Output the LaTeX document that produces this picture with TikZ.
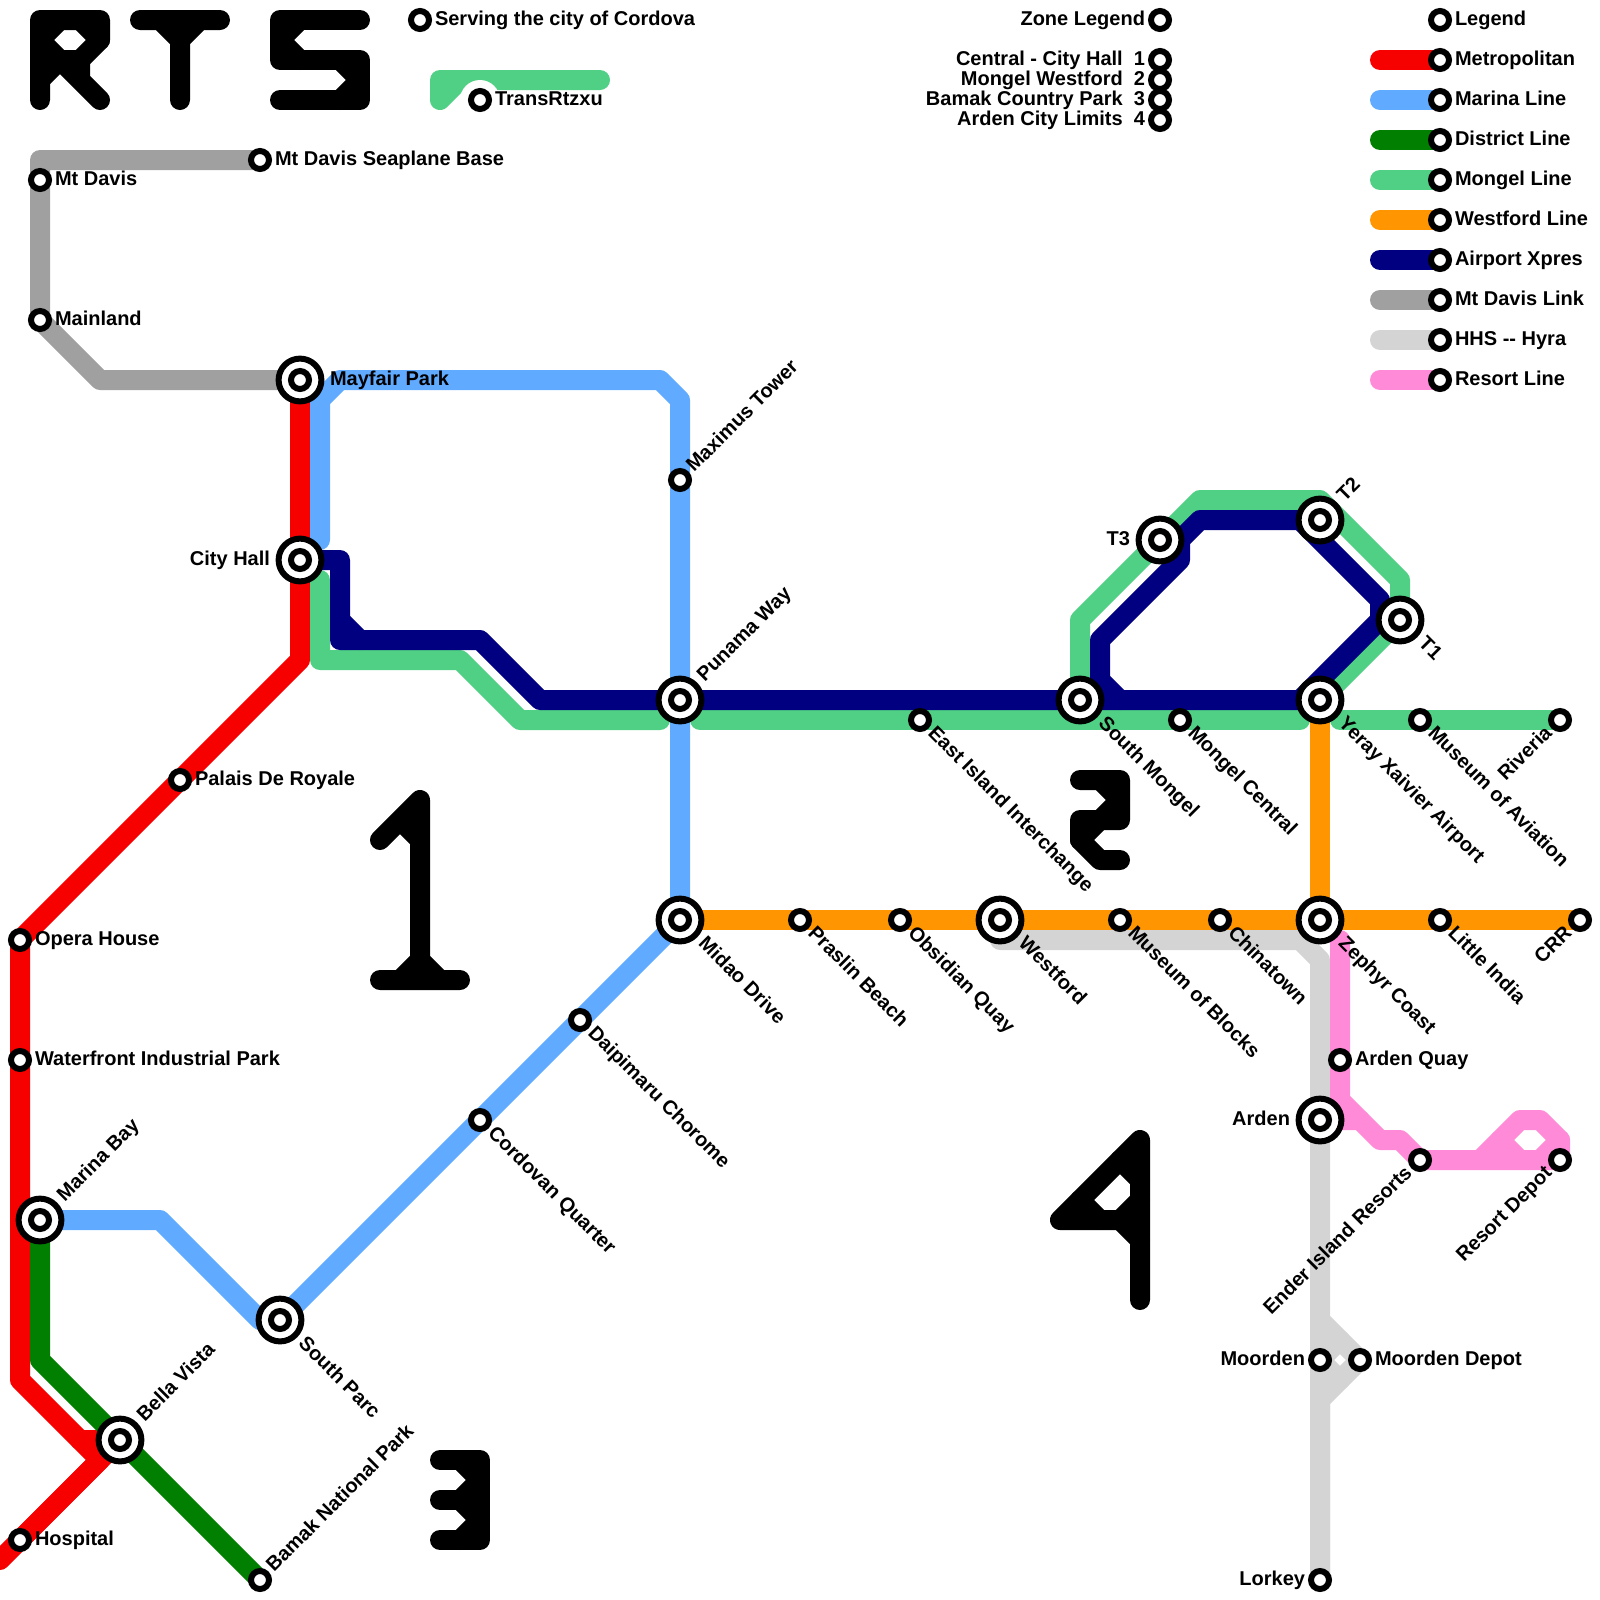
\documentclass[tikz,border=0pt]{standalone}
\usepackage{fontspec}
\setmainfont{Liberation Sans}
\usetikzlibrary{positioning}

\tikzset{
	route/.style={line width=0.5cm, line cap=round, line join=round},
	glyph/.style={route, black},
	stop/.style={circle, draw=black, fill=white, line width=0.15cm, minimum size=0.45cm, inner sep=0pt},
	bigstop/.style={circle, draw=black, fill=white, line width=0.15cm, minimum size=1.07cm, inner sep=0pt},
	lab/.style={font=\fontsize{14.23pt}{16pt}\selectfont\bfseries, inner sep=0pt, outer sep=0pt},
	laba/.style={lab, anchor=base west, xshift=#1, yshift=-3.56pt},
	labb/.style={lab, anchor=base east, xshift=-#1, yshift=-3.56pt},
	east/.style={laba=#1},
	west/.style={labb=#1},
	down/.style={rotate=-45, laba=#1},
	rise/.style={rotate=45, laba=#1},
	fall/.style={rotate=45, labb=#1},
}

\begin{document}
\begin{tikzpicture}[x=0.5cm, y=-0.5cm]
	
	% Line colours
	\definecolor{metroRed}{HTML}{F70000}
	\definecolor{marinaBlue}{HTML}{60AAFF}
	\definecolor{districtGreen}{HTML}{007F00}
	\definecolor{mongelGreen}{HTML}{4FD084}
	\definecolor{westfordOrange}{HTML}{FF9500}
	\definecolor{xpresNavy}{HTML}{000080}
	\definecolor{davisGrey}{HTML}{A0A0A0}
	\definecolor{hyraGrey}{HTML}{D4D4D4}
	\definecolor{resortPink}{HTML}{FF8AD8}
	
	\useasboundingbox (0,0) rectangle (80,80);
	
	% Stations
	\coordinate (Serving) at (21,1);
	\coordinate (Trans) at (24,5);
	\coordinate (MtDavis) at (2,9);
	\coordinate (Seaplane) at (13,8);
	\coordinate (Mainland) at (2,16);
	\coordinate (Mayfair) at (15,19);
	\coordinate (CityHall) at (15,28);
	\coordinate (Maximus) at (34,24);
	\coordinate (Punama) at (34,35);
	\coordinate (Midao) at (34,46);
	\coordinate (Palais) at (9,39);
	\coordinate (Opera) at (1,47);
	\coordinate (Waterfront) at (1,53);
	\coordinate (MarinaBay) at (2,61);
	\coordinate (BellaVista) at (6,72);
	\coordinate (Hospital) at (1,77);
	\coordinate (Bamak) at (13,79);
	\coordinate (SouthParc) at (14,66);
	\coordinate (Cordovan) at (24,56);
	\coordinate (Daipimaru) at (29,51);
	\coordinate (Praslin) at (40,46);
	\coordinate (Obsidian) at (45,46);
	\coordinate (Westford) at (50,46);
	\coordinate (Blocks) at (56,46);
	\coordinate (Chinatown) at (61,46);
	\coordinate (Zephyr) at (66,46);
	\coordinate (LittleIndia) at (72,46);
	\coordinate (CRR) at (79,46);
	\coordinate (EastIsland) at (46,36);
	\coordinate (SouthMongel) at (54,35);
	\coordinate (MongelCentral) at (59,36);
	\coordinate (Yeray) at (66,35);
	\coordinate (Aviation) at (71,36);
	\coordinate (Riveria) at (78,36);
	\coordinate (T1) at (70,31);
	\coordinate (T2) at (66,26);
	\coordinate (T3) at (58,27);
	\coordinate (ArdenQuay) at (67,53);
	\coordinate (Arden) at (66,56);
	\coordinate (Ender) at (71,58);
	\coordinate (ResortDepot) at (78,58);
	\coordinate (Moorden) at (66,68);
	\coordinate (MoordenDepot) at (68,68);
	\coordinate (Lorkey) at (66,79);
	
	% Legend rows
	\coordinate (ZoneHead) at (58,1);
	\coordinate (ZoneA) at (58,3);
	\coordinate (ZoneB) at (58,4);
	\coordinate (ZoneC) at (58,5);
	\coordinate (ZoneD) at (58,6);
	\coordinate (KeyHead) at (72,1);
	\coordinate (KeyMetro) at (72,3);
	\coordinate (KeyMarina) at (72,5);
	\coordinate (KeyDistrict) at (72,7);
	\coordinate (KeyMongel) at (72,9);
	\coordinate (KeyWestford) at (72,11);
	\coordinate (KeyXpres) at (72,13);
	\coordinate (KeyDavis) at (72,15);
	\coordinate (KeyHyra) at (72,17);
	\coordinate (KeyResort) at (72,19);
	
	% 1. Logo and zone numbers
	\draw[glyph] (2,5) -- (2,1) -- (5,1) -- (5,2) -- (4,3) -- (2,3);
	\draw[glyph] (2,2) -- (3,1) (4,1) -- (5,2) (2,2) -- (3,3) -- (5,5) (2,4) -- (3,3) (4,3) -- (4,4);
	\draw[glyph] (7,1) -- (11,1) (8,1) -- (9,2) -- (10,1) (9,2) -- (9,5);
	\draw[glyph] (18,1) -- (14,1) -- (14,3) -- (18,3) -- (18,5) -- (14,5);
	\draw[glyph] (15,1) -- (14,2) -- (15,3) (17,3) -- (18,4) -- (17,5);
	\draw[glyph] (19,42) -- (21,40) -- (21,49) (20,41) -- (21,42) (19,49) -- (23,49) (20,49) -- (21,48) -- (22,49);
	\draw[glyph] (54,39) -- (56,39) -- (56,41) -- (54,41) -- (54,42) -- (55,43) -- (56,43);
	\draw[glyph] (55,39) -- (56,40) -- (55,41) -- (54,42);
	\draw[glyph] (22,73) -- (24,73) -- (24,77) -- (22,77) (22,75) -- (23,75);
	\draw[glyph] (23,73) -- (24,74) -- (23,75) -- (24,76) -- (23,77);
	\draw[glyph] (57,65) -- (57,57) -- (53,61) -- (57,61);
	\draw[glyph] (56,58) -- (57,59) (57,60) -- (56,61) -- (57,62) (54,60) -- (55,61);
	
	% 2. TransRtzxu mark
	\draw[route, mongelGreen] (30,4) -- (22,4) -- (22,5) -- (23,4);
	\fill[white] (Trans) circle (1);
	
	% 3. Key bars
	\draw[route, metroRed] (69,3) -- (KeyMetro);
	\draw[route, marinaBlue] (69,5) -- (KeyMarina);
	\draw[route, districtGreen] (69,7) -- (KeyDistrict);
	\draw[route, mongelGreen] (69,9) -- (KeyMongel);
	\draw[route, westfordOrange] (69,11) -- (KeyWestford);
	\draw[route, xpresNavy] (69,13) -- (KeyXpres);
	\draw[route, davisGrey] (69,15) -- (KeyDavis);
	\draw[route, hyraGrey] (69,17) -- (KeyHyra);
	\draw[route, resortPink] (69,19) -- (KeyResort);
	
	% 4. Lines
	\draw[route, metroRed] (Mayfair) -- (CityHall) -- (15,33) -- (Palais) -- (Opera) -- (Waterfront) -- (1,69) -- (5,73) -- (0,78);
	\draw[route, metroRed] (4,72) -- (BellaVista) -- (Hospital);
	\draw[route, marinaBlue] (16,27) -- (16,20) -- (17,19) -- (33,19) -- (34,20) -- (Maximus) -- (Punama) -- (Midao) -- (Daipimaru) -- (Cordovan) -- (SouthParc) -- (13,66) -- (8,61) -- (MarinaBay);
	\draw[route, districtGreen] (MarinaBay) -- (2,68) -- (BellaVista) -- (Bamak);
	\draw[route, mongelGreen] (16,29) -- (16,33) -- (23,33) -- (26,36) -- (33,36);
	\draw[route, mongelGreen] (35,36) -- (EastIsland) -- (MongelCentral) -- (65,36);
	\draw[route, mongelGreen] (54,36) -- (54,31) -- (60,25) -- (66,25) -- (70,29) -- (T1) -- (Yeray);
	\draw[route, mongelGreen] (67,36) -- (Aviation) -- (Riveria);
	\draw[route, westfordOrange] (Midao) -- (Praslin) -- (Obsidian) -- (Westford) -- (Blocks) -- (Chinatown) -- (Zephyr) -- (LittleIndia) -- (CRR);
	\draw[route, westfordOrange] (Yeray) -- (Zephyr);
	\draw[route, xpresNavy] (CityHall) -- (17,28) -- (17,32) -- (18,32) -- (24,32) -- (27,35) -- (Punama) -- (SouthMongel) -- (Yeray);
	\draw[route, xpresNavy] (17,31) -- (18,32);
	\draw[route, xpresNavy] (56,35) -- (55,34) -- (55,32) -- (59,28) -- (59,27) -- (60,26) -- (T2) -- (65,26) -- (69,30) -- (69,31) -- (65,35);
	\draw[route, davisGrey] (Seaplane) -- (2,8) -- (MtDavis) -- (Mainland) -- (5,19) -- (Mayfair);
	\draw[route, hyraGrey] (50,47) -- (65,47) -- (66,48) -- (Arden) -- (66,66) -- (MoordenDepot) -- (66,70) -- (Lorkey);
	\draw[route, hyraGrey] (66,66) -- (Lorkey) (67,67) -- (Moorden) -- (67,69);
	\draw[route, resortPink] (67,47) -- (ArdenQuay) -- (67,55) -- (69,57) -- (70,57) -- (Ender) -- (ResortDepot) -- (78,57) -- (77,56) -- (76,56) -- (74,58);
	\draw[route, resortPink] (Arden) -- (68,56) (75,57) -- (76,58) (78,57) -- (77,58);
	
	% 5. Stops
	\foreach \p in {Mayfair,CityHall,Punama,Midao,Westford,SouthMongel,Yeray,T1,T2,T3,Zephyr,Arden,MarinaBay,BellaVista,SouthParc}
		\node[bigstop] (b\p) at (\p) {};
	\foreach \p in {Serving,Trans,MtDavis,Seaplane,Mainland,Mayfair,CityHall,Maximus,Punama,Midao,Palais,Opera,Waterfront,MarinaBay,BellaVista,Hospital,Bamak,SouthParc,Cordovan,Daipimaru,Praslin,Obsidian,Westford,Blocks,Chinatown,Zephyr,LittleIndia,CRR,EastIsland,SouthMongel,MongelCentral,Yeray,Aviation,Riveria,T1,T2,T3,ArdenQuay,Arden,Ender,ResortDepot,Moorden,MoordenDepot,Lorkey,ZoneHead,ZoneA,ZoneB,ZoneC,ZoneD,KeyHead,KeyMetro,KeyMarina,KeyDistrict,KeyMongel,KeyWestford,KeyXpres,KeyDavis,KeyHyra,KeyResort}
		\node[stop] (n\p) at (\p) {};
	
	% 6. Labels
	\foreach \p/\t in {Serving/Serving the city of Cordova,Trans/TransRtzxu,MtDavis/Mt Davis,Seaplane/Mt Davis Seaplane Base,Mainland/Mainland,Palais/Palais De Royale,Opera/Opera House,Waterfront/Waterfront Industrial Park,Hospital/Hospital,ArdenQuay/Arden Quay,MoordenDepot/Moorden Depot,KeyHead/Legend,KeyMetro/Metropolitan,KeyMarina/Marina Line,KeyDistrict/District Line,KeyMongel/Mongel Line,KeyWestford/Westford Line,KeyXpres/Airport Xpres,KeyDavis/Mt Davis Link,KeyHyra/HHS -{}- Hyra,KeyResort/Resort Line}
		\node[east=10.67pt] (l\p) at (\p) {\t};
	\node[east=21.34pt] (lMayfair) at (Mayfair) {Mayfair Park};
	\foreach \p/\t in {Moorden/Moorden,Lorkey/Lorkey,ZoneHead/Zone Legend,ZoneA/Central - City Hall~~1,ZoneB/Mongel Westford~~2,ZoneC/Bamak Country Park~~3,ZoneD/Arden City Limits~~4}
		\node[west=10.67pt] (l\p) at (\p) {\t};
	\foreach \p/\t in {CityHall/City Hall,T3/T3,Arden/Arden}
		\node[west=21.34pt] (l\p) at (\p) {\t};
	\foreach \p/\t in {Cordovan/Cordovan Quarter,Daipimaru/Daipimaru Chorome,Praslin/Praslin Beach,Obsidian/Obsidian Quay,Blocks/Museum of Blocks,Chinatown/Chinatown,LittleIndia/Little India,EastIsland/East Island Interchange,MongelCentral/Mongel Central,Aviation/Museum of Aviation}
		\node[down=10.67pt] (l\p) at (\p) {\t};
	\foreach \p/\t in {Midao/Midao Drive,SouthParc/South Parc,Westford/Westford,Zephyr/Zephyr Coast,SouthMongel/South Mongel,Yeray/Yeray Xaivier Airport,T1/T1}
		\node[down=21.34pt] (l\p) at (\p) {\t};
	\foreach \p/\t in {Maximus/Maximus Tower,Bamak/Bamak National Park}
		\node[rise=10.67pt] (l\p) at (\p) {\t};
	\foreach \p/\t in {Punama/Punama Way,T2/T2,MarinaBay/Marina Bay,BellaVista/Bella Vista}
		\node[rise=21.34pt] (l\p) at (\p) {\t};
	\foreach \p/\t in {Riveria/Riveria,CRR/CRR,Ender/Ender Island Resorts,ResortDepot/Resort Depot}
		\node[fall=10.67pt] (l\p) at (\p) {\t};
	
\end{tikzpicture}
\end{document}
